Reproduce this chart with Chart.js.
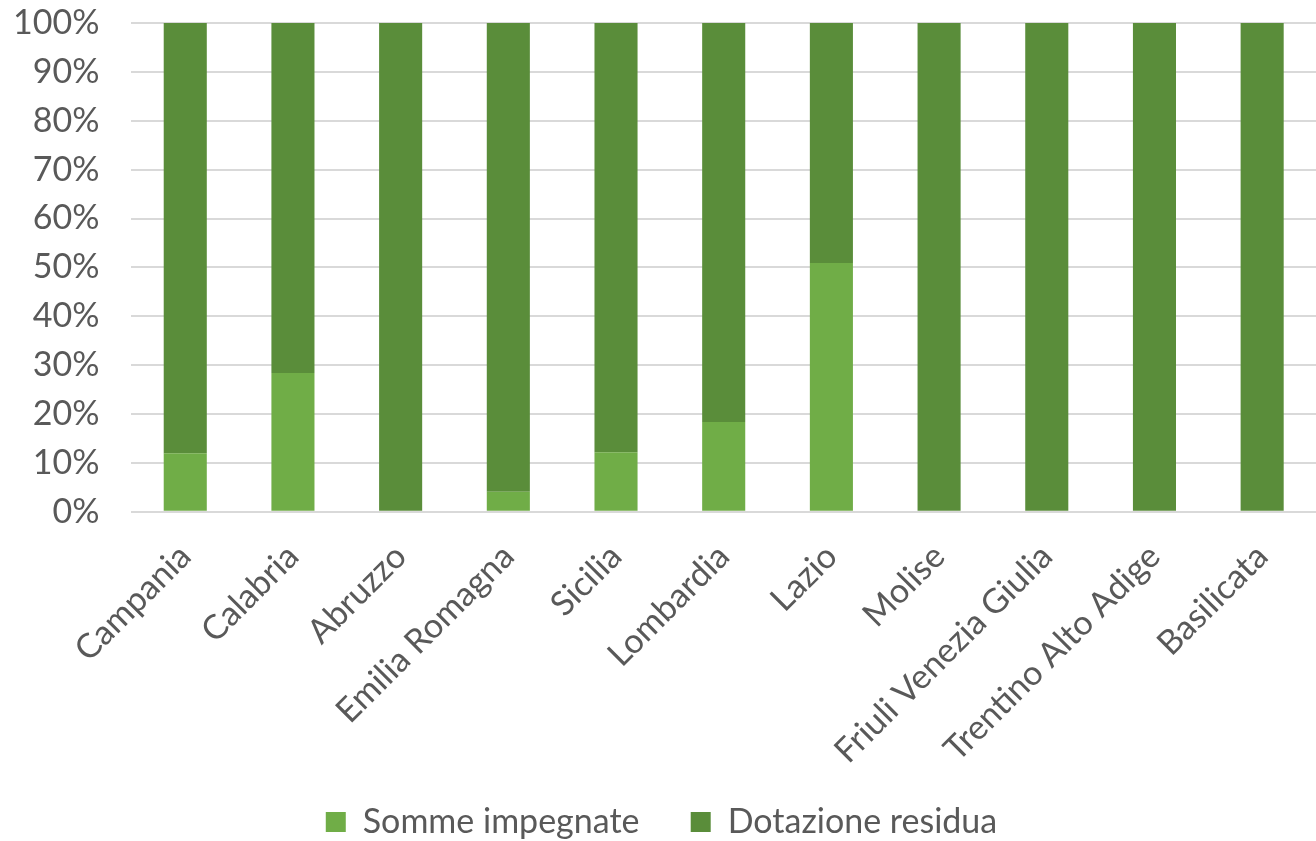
<!DOCTYPE html>
<html>
<head>
<meta charset="utf-8">
<script src="https://cdn.jsdelivr.net/npm/chart.js@4/dist/chart.umd.min.js"></script>
<style>
  html, body { margin: 0; padding: 0; background: #fff; overflow: hidden; }
  #wrap { width: 1316px; height: 841px; position: relative; }
</style>
</head>
<body>
<div id="wrap"><canvas id="chart"></canvas></div>
<script>
// regioni e quote (%)
const regioni = ['Campania', 'Calabria', 'Abruzzo', 'Emilia Romagna', 'Sicilia', 'Lombardia',
  'Lazio', 'Molise', 'Friuli Venezia Giulia', 'Trentino Alto Adige', 'Basilicata'];
const sommeImpegnate = [12.0, 28.4, 0, 4.1, 12.2, 18.4, 50.9, 0, 0, 0, 0];
const dotazioneResidua = [88.0, 71.6, 100, 95.9, 87.8, 81.6, 49.1, 100, 100, 100, 100];
const yTicks = [0, 10, 20, 30, 40, 50, 60, 70, 80, 90, 100];

const labelFont = { family: 'Lato, "Open Sans", sans-serif', size: 34, lineHeight: 1 };
const textColor = '#595959';

new Chart(document.getElementById('chart'), {
  type: 'bar',
  data: {
    labels: regioni,
    datasets: [
      {
        label: 'Somme impegnate',
        data: sommeImpegnate,
        backgroundColor: '#70AD47',
        categoryPercentage: 1,
        barPercentage: 0.4
      },
      {
        label: 'Dotazione residua',
        data: dotazioneResidua,
        backgroundColor: '#5A8D3A',
        categoryPercentage: 1,
        barPercentage: 0.4
      }
    ]
  },
  options: {
    responsive: true,
    maintainAspectRatio: false,
    animation: false,
    layout: { padding: { top: 0, right: 0, left: 7, bottom: -8 } },
    plugins: {
      legend: {
        position: 'bottom',
        labels: {
          color: textColor,
          font: labelFont,
          boxWidth: 20,
          boxHeight: 20,
          padding: 17,
          generateLabels: function (chart) {
            const items = Chart.defaults.plugins.legend.labels.generateLabels(chart);
            // spazio extra tra le due voci, come nella legenda originale
            items[0].text = items[0].text + '\u2003 ';
            return items;
          }
        }
      },
      tooltip: { enabled: false }
    },
    scales: {
      x: {
        stacked: true,
        grid: { display: false },
        border: { display: false },
        afterFit: function (axis) {
          // lascia che le etichette ruotate sporgano a sinistra come nell'originale
          axis.paddingLeft = 0;
          axis.paddingRight = 0;
        },
        ticks: {
          color: textColor,
          font: labelFont,
          minRotation: 45,
          maxRotation: 45,
          autoSkip: false,
          padding: 19
        }
      },
      y: {
        stacked: true,
        min: 0,
        max: 100,
        afterBuildTicks: function (axis) {
          axis.ticks = yTicks.map(v => ({ value: v }));
        },
        grid: {
          color: '#D9D9D9',
          lineWidth: 2,
          drawTicks: true,
          tickLength: 26,
          tickColor: 'rgba(0,0,0,0)'
        },
        border: { display: false },
        ticks: {
          color: textColor,
          font: labelFont,
          autoSkip: false,
          padding: 6,
          callback: function (value) { return value + '%'; }
        }
      }
    }
  }
});
</script>
</body>
</html>
